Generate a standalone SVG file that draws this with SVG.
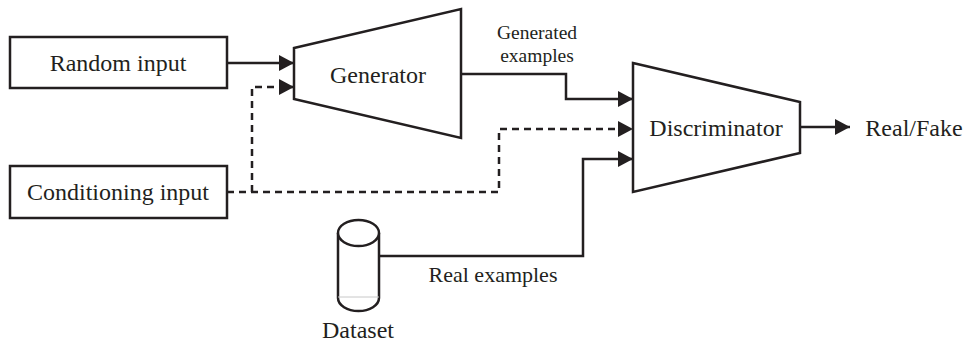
<svg xmlns="http://www.w3.org/2000/svg" width="970" height="342" viewBox="0 0 970 342">
<style>
.shape{fill:#fff;stroke:#231f20;stroke-width:2.5;stroke-linejoin:miter}
.lbl{font-family:"Liberation Serif","DejaVu Serif",serif;font-size:24px;fill:#231f20;text-anchor:middle}
.small{font-size:19.5px}
.mid{font-size:22px}
.conn{fill:none;stroke:#231f20;stroke-width:2.5}
.dash{stroke-dasharray:7 5}
</style>
<defs>
<marker id="arr" markerUnits="userSpaceOnUse" markerWidth="16" markerHeight="18" refX="15" refY="8" orient="auto" viewBox="0 0 16 18">
<path d="M0,0 L15,8 L0,16 z" fill="#231f20"/>
</marker>
</defs>
<rect width="970" height="342" fill="#fff"/>
<g id="connectors">
<path class="conn" d="M227,63 H294" marker-end="url(#arr)"/>
<path class="conn dash" d="M227,192 H499 V129 H633" marker-end="url(#arr)"/>
<path class="conn dash" d="M252,192 V87 H294" marker-end="url(#arr)"/>
<path class="conn" d="M461,74 H566 V99 H633" marker-end="url(#arr)"/>
<path class="conn" d="M379,256 H583 V159 H633" marker-end="url(#arr)"/>
<path class="conn" d="M800,127 H850" marker-end="url(#arr)"/>
<text class="lbl small" x="537" y="39">Generated</text>
<text class="lbl small" x="537" y="62">examples</text>
<text class="lbl mid" x="493" y="282">Real examples</text>
</g>
<g id="random-input">
<rect class="shape" x="10" y="37" width="217" height="51"/>
<text class="lbl" x="118" y="71">Random input</text>
</g>
<g id="conditioning-input">
<rect class="shape" x="10" y="166" width="217" height="52"/>
<text class="lbl" x="118" y="200">Conditioning input</text>
</g>
<g id="generator">
<polygon class="shape" points="294,48 461,9 461,138 294,99"/>
<text class="lbl" x="378" y="83">Generator</text>
</g>
<g id="discriminator">
<polygon class="shape" points="633,63 800,102 800,153 633,192"/>
<text class="lbl" x="716" y="136">Discriminator</text>
</g>
<g id="real-fake">
<text class="lbl" x="914" y="136">Real/Fake</text>
</g>
<g id="dataset">
<path class="shape" d="M338,233 V298 A20.5,13 0 0 0 379,298 V233"/>
<line x1="338" y1="297" x2="379" y2="297" stroke="#c8c8c8" stroke-width="1"/>
<ellipse class="shape" cx="358.5" cy="233" rx="20.5" ry="13"/>
<text class="lbl" x="358" y="338">Dataset</text>
</g>
</svg>
